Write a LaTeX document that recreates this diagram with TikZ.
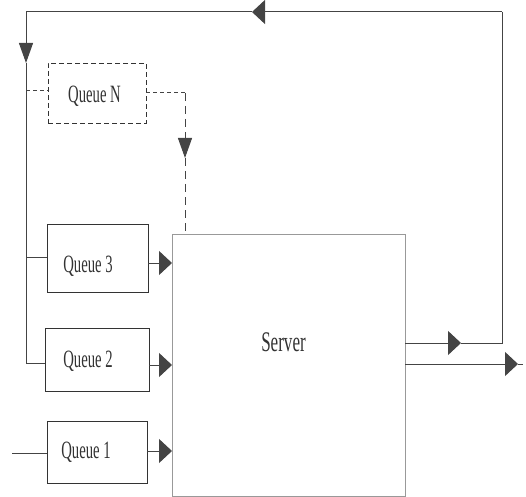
\documentclass[tikz,border=0pt]{standalone}
\usepackage{fontspec}
\setmainfont{Liberation Serif}
\usetikzlibrary{arrows.meta}

% Narrow, tall lettering for the labels
\newcommand\qlabel[1]{\scalebox{0.59}[1]{\fontsize{25}{25}\selectfont #1}}
\newcommand\slabel[1]{\scalebox{0.60}[1]{\fontsize{28.5}{28.5}\selectfont #1}}

\definecolor{ink}{HTML}{333333}
\definecolor{wire}{HTML}{444444}
\definecolor{frame}{HTML}{999999}

\begin{document}
\begin{tikzpicture}[x=1bp,y=-1bp,
  line width=1bp,
  qbox/.style={draw=ink, line width=0.9bp, inner sep=0pt, outer sep=0pt},
  sbox/.style={draw=frame, line width=1bp, inner sep=0pt, outer sep=0pt},
  txt/.style={text=ink, inner sep=0pt, anchor=base},
  harrow/.style={draw=wire, -{Triangle[length=13bp,width=24bp]}},
  varrow/.style={draw=wire, -{Triangle[length=20bp,width=14bp]}},
  hdash/.style={dash pattern=on 4bp off 3bp},
  vdash/.style={dash pattern=on 8bp off 5bp},
]
\useasboundingbox (0,0) rectangle (526,497);

% Queues and server
\node[qbox, dash pattern=on 5bp off 3bp, minimum width=98bp, minimum height=60bp] (qn) at (97,93) {};
\node[qbox, minimum width=101bp, minimum height=68bp] (q3) at (97.5,258) {};
\node[qbox, minimum width=104bp, minimum height=63bp] (q2) at (97,359.5) {};
\node[qbox, minimum width=100bp, minimum height=62bp] (q1) at (97,452) {};
\node[sbox, minimum width=233bp, minimum height=261bp] (s) at (288.5,365.5) {};

\node[txt] (tqn) at (94.5,103) {\qlabel{Queue N}};
\node[txt] (tq3) at (88,272) {\qlabel{Queue 3}};
\node[txt] (tq2) at (88,367) {\qlabel{Queue 2}};
\node[txt] (tq1) at (86,458) {\qlabel{Queue 1}};
\node[txt] (ts) at (283.5,351) {\slabel{Server}};

% Points of the feedback loop and the left bus
\coordinate (fbOut) at (405,343);
\coordinate (fbTip) at (461,343);
\coordinate (fbCorner) at (502,343);
\coordinate (topRight) at (502,12);
\coordinate (topTip) at (252,12);
\coordinate (topLeft) at (26,12);
\coordinate (busTip) at (26,63);
\coordinate (busN) at (26,91);
\coordinate (bus3) at (26,257);
\coordinate (bus2) at (26,363);

% Feedback loop from the server back to the queues
\draw[harrow] (fbOut) -- (fbTip);
\draw[wire] (fbTip) -- (fbCorner) -- (topRight);
\draw[harrow] (topRight) -- (topTip);
\draw[varrow] (topTip) -- (topLeft) -- (busTip);
\draw[wire] (busTip) -- (bus2) -- (q2.west |- bus2);
\draw[wire] (bus3) -- (q3.west |- bus3);
\draw[wire, hdash] (busN) -- (qn.west |- busN);

% Queue N to server (dashed)
\coordinate (nOut) at (qn.east |- 0,93);
\coordinate (nCorner) at (185,93);
\coordinate (nTip) at (185,158);
\coordinate (nIn) at (185,235);
\draw[wire, hdash] (nOut) -- (nCorner);
\draw[varrow, vdash] (nCorner) -- (nTip);
\draw[wire, vdash] (nTip) -- (nIn);

% Queues 1 to 3 into the server
\draw[harrow] (q3.east |- 0,263) -- (s.west |- 0,263);
\draw[harrow] (q2.east |- 0,365) -- (s.west |- 0,365);
\draw[harrow] (q1.east |- 0,451) -- (s.west |- 0,451);

% Arrivals into Queue 1
\coordinate (in1) at (12,453);
\draw[wire] (in1) -- (q1.west |- in1);

% Departures
\coordinate (outA) at (405,364);
\coordinate (outTip) at (518,364);
\coordinate (outEnd) at (523,364);
\draw[harrow] (outA) -- (outTip);
\draw[wire] (outTip) -- (outEnd);
\end{tikzpicture}
\end{document}
